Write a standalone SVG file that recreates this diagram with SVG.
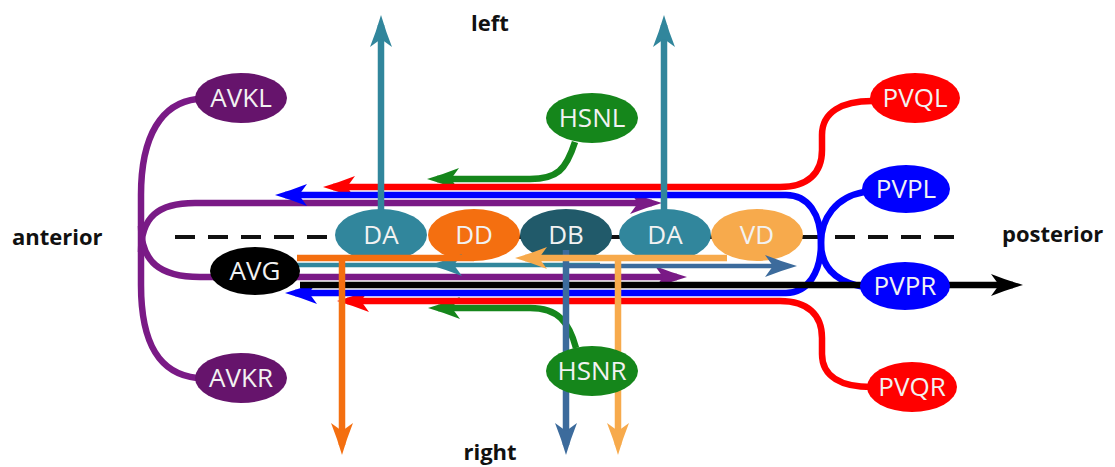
<svg xmlns="http://www.w3.org/2000/svg" width="1115" height="467" viewBox="0 0 1115 467">
  <style>
    .ax { fill: none; stroke-width: 6.5; stroke-linecap: butt; stroke-linejoin: round; }
    .lbl { font-family: "Open Sans", "Noto Sans", sans-serif; font-size: 26px; fill: #f2f2f2; text-anchor: middle; }
    .dir { font-family: "Open Sans", "Noto Sans", sans-serif; font-size: 22px; font-weight: bold; fill: #111; }
    .red { stroke: #ff0000; } .blue { stroke: #0000ff; } .purple { stroke: #7a1a86; }
    .green { stroke: #15861b; } .teal { stroke: #31869c; } .orange { stroke: #f46f10; }
    .lorange { stroke: #f7aa4c; } .steel { stroke: #3c6b9c; } .black { stroke: #000; }
  </style>
  <defs>
    <marker id="mRed" viewBox="0 0 32 22" refX="22" refY="11" markerWidth="32" markerHeight="22" markerUnits="userSpaceOnUse" orient="auto"><path d="M32,11 Q15,6 0,0 L8,11 L0,22 Q15,16 32,11 Z" fill="#ff0000"/></marker>
    <marker id="mBlue" viewBox="0 0 32 22" refX="22" refY="11" markerWidth="32" markerHeight="22" markerUnits="userSpaceOnUse" orient="auto"><path d="M32,11 Q15,6 0,0 L8,11 L0,22 Q15,16 32,11 Z" fill="#0000ff"/></marker>
    <marker id="mPurple" viewBox="0 0 32 22" refX="22" refY="11" markerWidth="32" markerHeight="22" markerUnits="userSpaceOnUse" orient="auto"><path d="M32,11 Q15,6 0,0 L8,11 L0,22 Q15,16 32,11 Z" fill="#7a1a86"/></marker>
    <marker id="mGreen" viewBox="0 0 32 22" refX="22" refY="11" markerWidth="32" markerHeight="22" markerUnits="userSpaceOnUse" orient="auto"><path d="M32,11 Q15,6 0,0 L8,11 L0,22 Q15,16 32,11 Z" fill="#15861b"/></marker>
    <marker id="mTeal" viewBox="0 0 32 22" refX="22" refY="11" markerWidth="32" markerHeight="22" markerUnits="userSpaceOnUse" orient="auto"><path d="M32,11 Q15,6 0,0 L8,11 L0,22 Q15,16 32,11 Z" fill="#31869c"/></marker>
    <marker id="mOrange" viewBox="0 0 32 22" refX="22" refY="11" markerWidth="32" markerHeight="22" markerUnits="userSpaceOnUse" orient="auto"><path d="M32,11 Q15,6 0,0 L8,11 L0,22 Q15,16 32,11 Z" fill="#f46f10"/></marker>
    <marker id="mLOrange" viewBox="0 0 32 22" refX="22" refY="11" markerWidth="32" markerHeight="22" markerUnits="userSpaceOnUse" orient="auto"><path d="M32,11 Q15,6 0,0 L8,11 L0,22 Q15,16 32,11 Z" fill="#f7aa4c"/></marker>
    <marker id="mSteel" viewBox="0 0 32 22" refX="22" refY="11" markerWidth="32" markerHeight="22" markerUnits="userSpaceOnUse" orient="auto"><path d="M32,11 Q15,6 0,0 L8,11 L0,22 Q15,16 32,11 Z" fill="#3c6b9c"/></marker>
    <marker id="mBlack" viewBox="0 0 32 22" refX="22" refY="11" markerWidth="32" markerHeight="22" markerUnits="userSpaceOnUse" orient="auto"><path d="M32,11 Q15,6 0,0 L8,11 L0,22 Q15,16 32,11 Z" fill="#000"/></marker>
  </defs>

  <rect width="1115" height="467" fill="#fff"/>

  <!-- body midline -->
  <g id="midline">
    <line x1="175" y1="237" x2="962" y2="237" stroke="#111" stroke-width="4" stroke-dasharray="20 13"/>
  </g>

  <!-- ventral cord motor neurons -->
  <g id="node-DA1"><ellipse cx="381" cy="235" rx="46" ry="26" fill="#31869c"/><text class="lbl" x="381" y="244">DA</text></g>
  <g id="node-DD"><ellipse cx="474" cy="235" rx="46" ry="26" fill="#f46f10"/><text class="lbl" x="474" y="244">DD</text></g>
  <g id="node-DB"><ellipse cx="566" cy="235" rx="46" ry="26" fill="#215a6a"/><text class="lbl" x="566" y="244">DB</text></g>
  <g id="node-DA2"><ellipse cx="665" cy="235" rx="46" ry="26" fill="#31869c"/><text class="lbl" x="665" y="244">DA</text></g>
  <g id="node-VD"><ellipse cx="757" cy="235" rx="46" ry="26" fill="#f7aa4c"/><text class="lbl" x="757" y="244">VD</text></g>

  <g id="connectors">
    <!-- AVK: long arc joining AVKL and AVKR, plus branches into both bundles -->
    <path class="ax purple" d="M197,99 C162,103 141,135 141,195 L141,285 C141,345 160,374 197,378"/>
    <path class="ax purple" d="M141,252 C141,217 158,203 195,203 L652,203" marker-end="url(#mPurple)"/>
    <path class="ax purple" d="M141,226 C141,262 160,277 200,277 L677,277" marker-end="url(#mPurple)"/>

    <!-- HSN -->
    <path class="ax green" d="M575,142 C566,170 557,179 530,179 L437,179" marker-end="url(#mGreen)"/>
    <path class="ax green" d="M576,348 C569,322 558,308 530,308 L438,308" marker-end="url(#mGreen)"/>

    <!-- PVQ -->
    <path class="ax red" d="M872,101 C842,101 822,112 822,135 L822,150 C822,173 808,187 780,187 L333,187" marker-end="url(#mRed)"/>
    <path class="ax red" d="M872,387 C842,387 822,377 822,354 L822,338 C822,315 808,301 780,301 L347,301" marker-end="url(#mRed)"/>

    <!-- PVP -->
    <path class="ax blue" d="M821,243 C821,214 808,195 786,195 L285,195" marker-end="url(#mBlue)"/>
    <path class="ax blue" d="M821,243 C821,272 808,293 786,293 L295,293" marker-end="url(#mBlue)"/>
    <path class="ax blue" d="M864,192 C836,197 821,218 821,243 C821,268 836,282 864,287"/>

    <!-- AVG -->
    <path class="ax black" d="M300,285 L1013,285" marker-end="url(#mBlack)"/>

    <!-- DA -->
    <path class="ax teal" d="M381,210 L381,25" marker-end="url(#mTeal)"/>
    <path class="ax teal" d="M664,210 L664,25" marker-end="url(#mTeal)"/>
    <path class="ax teal" d="M440,265 L297,265" style="stroke-width:4.5"/>
    <path class="ax teal" d="M600,265 L440,265" style="stroke-width:4.5" marker-end="url(#mTeal)"/>

    <!-- DB -->
    <path class="ax steel" d="M566,266 L787,266" style="stroke-width:4.5" marker-end="url(#mSteel)"/>
    <path class="ax steel" d="M566,250 L566,445" marker-end="url(#mSteel)"/>

    <!-- DD -->
    <path class="ax orange" d="M474,258 L297,258"/>
    <path class="ax orange" d="M342,258 L342,445" marker-end="url(#mOrange)"/>

    <!-- VD -->
    <path class="ax lorange" d="M727,258 L525,258" marker-end="url(#mLOrange)"/>
    <path class="ax lorange" d="M618,258 L618,445" marker-end="url(#mLOrange)"/>
  </g>

  <!-- command interneurons and other neurons -->
  <g id="node-AVKL"><ellipse cx="241" cy="98" rx="46" ry="25" fill="#66146c"/><text class="lbl" x="241" y="107">AVKL</text></g>
  <g id="node-AVKR"><ellipse cx="241" cy="378" rx="46" ry="25" fill="#66146c"/><text class="lbl" x="241" y="387">AVKR</text></g>
  <g id="node-AVG"><ellipse cx="255" cy="271" rx="45" ry="24" fill="#000"/><text class="lbl" x="255" y="280">AVG</text></g>
  <g id="node-HSNL"><ellipse cx="592" cy="118" rx="46" ry="25" fill="#15861b"/><text class="lbl" x="592" y="127">HSNL</text></g>
  <g id="node-HSNR"><ellipse cx="592" cy="371" rx="46" ry="25" fill="#15861b"/><text class="lbl" x="592" y="380">HSNR</text></g>
  <g id="node-PVQL"><ellipse cx="915" cy="98" rx="45" ry="25" fill="#ff0000"/><text class="lbl" x="915" y="107">PVQL</text></g>
  <g id="node-PVQR"><ellipse cx="912" cy="387" rx="45" ry="25" fill="#ff0000"/><text class="lbl" x="912" y="396">PVQR</text></g>
  <g id="node-PVPL"><ellipse cx="906" cy="189" rx="44" ry="24" fill="#0000ff"/><text class="lbl" x="906" y="198">PVPL</text></g>
  <g id="node-PVPR"><ellipse cx="905" cy="286" rx="45" ry="24" fill="#0000ff"/><text class="lbl" x="905" y="295">PVPR</text></g>

  <!-- body axes -->
  <g id="axes">
    <text class="dir" x="490" y="31" text-anchor="middle">left</text>
    <text class="dir" x="490" y="460" text-anchor="middle">right</text>
    <text class="dir" x="12" y="245">anterior</text>
    <text class="dir" x="1002" y="242">posterior</text>
  </g>
</svg>
